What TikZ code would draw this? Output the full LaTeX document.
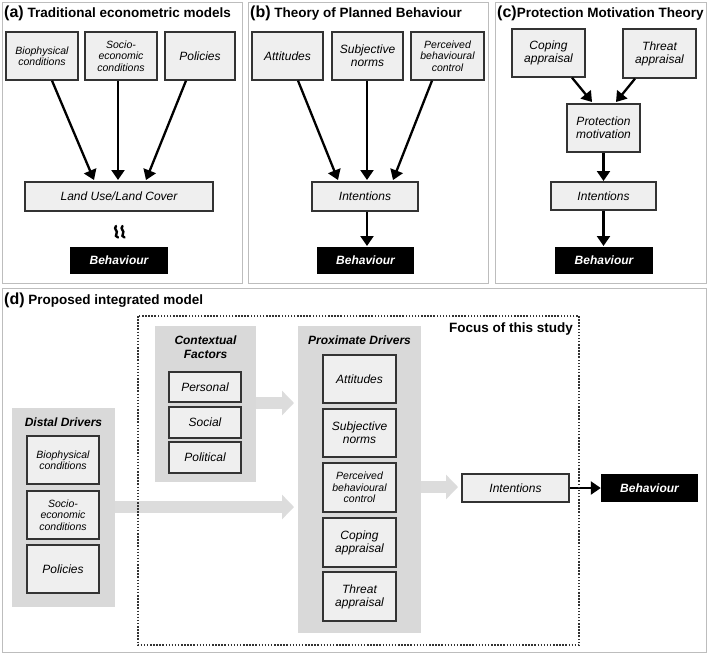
\documentclass[tikz,border=0pt]{standalone}
\usepackage{fontspec}
\setmainfont{Liberation Sans}
\usetikzlibrary{arrows.meta}
\definecolor{boxfill}{HTML}{EFEFEF}
\definecolor{boxline}{HTML}{333333}
\definecolor{panelline}{HTML}{BDBDBD}
\definecolor{groupfill}{HTML}{D9D9D9}
\definecolor{garrow}{HTML}{DCDCDC}
\tikzset{
  x=1pt,y=-1pt,
  panel/.style={draw=panelline,line width=1pt},
  box/.style={draw=boxline,fill=boxfill,line width=1.3pt,inner sep=1pt,align=center,font=\fontsize{12}{13}\selectfont\itshape},
  sbox/.style={box,font=\fontsize{10.5}{11.5}\selectfont\itshape},
  beh/.style={fill=black,inner sep=0pt,text=white,font=\fontsize{12}{13}\selectfont\bfseries\itshape},
  group/.style={fill=groupfill,inner sep=0pt},
  grouptitle/.style={align=center,font=\fontsize{12}{14}\selectfont\bfseries\itshape},
  ptitle/.style={anchor=west,inner sep=0pt,font=\fontsize{13.5}{15}\selectfont\bfseries},
  arr/.style={line width=2.3pt,-{Triangle[length=10pt,width=13pt]}},
  garr/.style={draw=garrow,line width=12pt,-{Triangle[length=12pt,width=24pt]}},
  focus/.style={draw=boxline,line width=1.3pt,dash pattern=on 1.5pt off 1.6pt},
  wave/.style={line width=2.4pt,line cap=round},
}
\begin{document}
\begin{tikzpicture}
\useasboundingbox[fill=white] (0,0) rectangle (708,654);
% panels
\draw[panel] (2,2) rectangle (242,283);
\draw[panel] (248,2) rectangle (488,283);
\draw[panel] (495,2) rectangle (706,283);
\draw[panel] (2,288) rectangle (706,652);
% titles
\node[ptitle] (ta) at (4,13) {{\fontsize{16}{16}\selectfont(a)} Traditional econometric models};
\node[ptitle] (tb) at (250,13) {{\fontsize{16}{16}\selectfont(b)} Theory of Planned Behaviour};
\node[ptitle] (tc) at (497,13) {{\fontsize{16}{16}\selectfont(c)}Protection Motivation Theory};
\node[ptitle] (td) at (4,300) {{\fontsize{16}{16}\selectfont(d)} Proposed integrated model};
% ---- panel a
\node[sbox,minimum width=72pt,minimum height=48pt] (a1) at (42,56) {Biophysical\\conditions};
\node[sbox,minimum width=72pt,minimum height=48pt] (a2) at (121,56) {Socio-\\economic\\conditions};
\node[box,minimum width=70pt,minimum height=48pt] (a3) at (200,56) {Policies};
\node[box,minimum width=188pt,minimum height=29pt] (alu) at (119,196.5) {Land Use/Land Cover};
\node[beh,minimum width=98pt,minimum height=27pt] (abeh) at (119,260.5) {Behaviour};
\coordinate (a1t) at (94,180);
\coordinate (a3t) at (146,180);
\draw[arr] (a1.south -| 52,0) -- (a1t);
\draw[arr] (a2.south -| 118,0) -- (118,180);
\draw[arr] (a3.south -| 186,0) -- (a3t);
% wavy symbol
\draw[wave] (116,226) .. controls (113,229) and (118.5,231) .. (116.5,233.5) .. controls (115,235.5) and (116,236.5) .. (118,237.5);
\draw[wave] (122.5,226) .. controls (119.5,229) and (125,231) .. (123,233.5) .. controls (121.5,235.5) and (122.5,236.5) .. (124.5,237.5);
% ---- panel b
\node[box,minimum width=71pt,minimum height=48pt] (b1) at (287.5,56) {Attitudes};
\node[box,minimum width=71pt,minimum height=48pt] (b2) at (367.5,56) {Subjective\\norms};
\node[sbox,minimum width=73pt,minimum height=48pt] (b3) at (447.5,56) {Perceived\\behavioural\\control};
\node[box,minimum width=106pt,minimum height=29pt] (bint) at (365,196.5) {Intentions};
\node[beh,minimum width=97pt,minimum height=27pt] (bbeh) at (365.5,260.5) {Behaviour};
\coordinate (b1t) at (338,180);
\coordinate (b3t) at (393,180);
\draw[arr] (b1.south -| 298,0) -- (b1t);
\draw[arr] (b2.south -| 367,0) -- (367,180);
\draw[arr] (b3.south -| 432,0) -- (b3t);
\draw[arr] (bint.south -| 367,0) -- (367,246);
% ---- panel c
\node[box,minimum width=73pt,minimum height=48pt] (c1) at (548.5,53) {Coping\\appraisal};
\node[box,minimum width=73pt,minimum height=49pt] (c2) at (659.5,53.5) {Threat\\appraisal};
\node[box,minimum width=73pt,minimum height=48pt] (cpm) at (603.5,128) {Protection\\motivation};
\node[box,minimum width=105pt,minimum height=28pt] (cint) at (603.5,196) {Intentions};
\node[beh,minimum width=98pt,minimum height=27pt] (cbeh) at (604,260.5) {Behaviour};
\coordinate (c1t) at (592,102);
\coordinate (c2t) at (616,102);
\draw[arr] (c1.south -| 572,0) -- (c1t);
\draw[arr] (c2.south -| 635,0) -- (c2t);
\draw[arr] (cpm.south) -- (603.5,181);
\draw[arr] (cint.south) -- (603.5,246);
% ---- panel d
\node[group,minimum width=103pt,minimum height=199pt] (dist) at (63.5,507.5) {};
\node[grouptitle] (distt) at (63.5,422) {Distal Drivers};
\node[sbox,minimum width=72pt,minimum height=48pt] (d1) at (63,460) {Biophysical\\conditions};
\node[sbox,minimum width=72pt,minimum height=48pt] (d2) at (63,515) {Socio-\\economic\\conditions};
\node[box,minimum width=72pt,minimum height=48pt] (d3) at (63,569) {Policies};

\node[group,minimum width=101pt,minimum height=156pt] (ctx) at (205.5,404) {};
\node[grouptitle] (ctxt) at (205.5,347.5) {Contextual\\Factors};
\node[box,minimum width=72pt,minimum height=30pt] (e1) at (205,387) {Personal};
\node[box,minimum width=72pt,minimum height=31pt] (e2) at (205,422.5) {Social};
\node[box,minimum width=72pt,minimum height=31pt] (e3) at (205,457.5) {Political};

\node[group,minimum width=123pt,minimum height=307pt] (prox) at (359.5,479.5) {};
\node[grouptitle] (proxt) at (359.5,340) {Proximate Drivers};
\node[box,minimum width=73pt,minimum height=48pt] (p1) at (359.5,379) {Attitudes};
\node[box,minimum width=73pt,minimum height=48pt] (p2) at (359.5,433) {Subjective\\norms};
\node[sbox,minimum width=73pt,minimum height=49pt] (p3) at (359.5,487.5) {Perceived\\behavioural\\control};
\node[box,minimum width=73pt,minimum height=49pt] (p4) at (359.5,542.5) {Coping\\appraisal};
\node[box,minimum width=73pt,minimum height=49pt] (p5) at (359.5,596.5) {Threat\\appraisal};

\node[box,minimum width=107pt,minimum height=28pt] (dint) at (515.5,488) {Intentions};
\node[beh,minimum width=97pt,minimum height=28pt] (dbeh) at (649.5,488) {Behaviour};

\draw[garr] (ctx.east |- 0,403) -- (294,403);
\draw[garr] (dist.east |- 0,507) -- (294,507);
\draw[garr] (prox.east |- 0,487) -- (458,487);
\draw[arr] (dint.east) -- (dbeh.west);

\draw[focus] (138,316) rectangle (579,645);
\node[anchor=east,inner sep=0pt,font=\fontsize{13.5}{15}\selectfont\bfseries] (foc) at (573,329) {Focus of this study};
\end{tikzpicture}
\end{document}
